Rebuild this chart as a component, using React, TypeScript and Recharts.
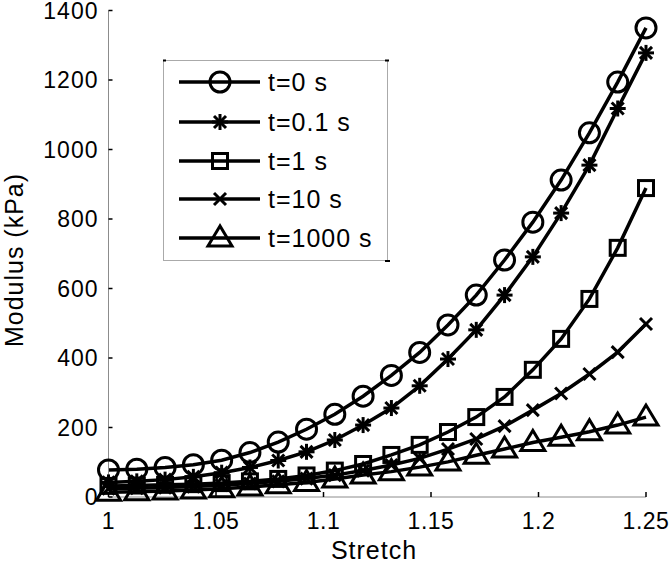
import { LineChart, Line, XAxis, YAxis } from 'recharts';

const stretch = [
  1, 1.013158, 1.026316, 1.039474, 1.052632, 1.065789, 1.078947, 1.092105, 1.105263, 1.118421,
  1.131579, 1.144737, 1.157895, 1.171053, 1.184211, 1.197368, 1.210526, 1.223684, 1.236842, 1.25,
];

const t0 = [78, 80, 85, 93, 106, 128, 158, 195, 238, 290, 350, 416, 495, 581, 682, 791, 912, 1048, 1194, 1350];
const t01 = [42, 45, 50, 58, 70, 85, 105, 130, 164, 207, 256, 320, 397, 481, 581, 691, 817, 955, 1118, 1278];
const t1 = [32, 33, 35, 37, 40, 45, 52, 62, 76, 95, 121, 150, 187, 230, 288, 366, 455, 570, 717, 889];
const t10 = [24, 25, 27, 30, 34, 39, 45, 53, 63, 76, 92, 111, 138, 167, 204, 250, 298, 354, 417, 498];
const t1000 = [14, 15, 17, 20, 24, 29, 35, 42, 52, 63, 73, 86, 101, 120, 138, 157, 172, 188, 207, 230];

const xTicks = [1, 1.05, 1.1, 1.15, 1.2, 1.25];
const yTicks = [0, 200, 400, 600, 800, 1000, 1200, 1400];

const series = [
  { key: 't0', name: 't=0 s', marker: 'circle' },
  { key: 't01', name: 't=0.1 s', marker: 'star' },
  { key: 't1', name: 't=1 s', marker: 'square' },
  { key: 't10', name: 't=10 s', marker: 'x' },
  { key: 't1000', name: 't=1000 s', marker: 'triangle' },
];

const data = stretch.map((x, i) => ({
  x,
  t0: t0[i],
  t01: t01[i],
  t1: t1[i],
  t10: t10[i],
  t1000: t1000[i],
}));

const FONT = 'Liberation Sans, Arial, sans-serif';

function marker(kind: string, cx: number, cy: number, key?: string) {
  const s = { stroke: '#000', strokeWidth: 3, fill: 'none' };
  switch (kind) {
    case 'circle':
      return <circle key={key} cx={cx} cy={cy} r={10} {...s} />;
    case 'square':
      return <rect key={key} x={cx - 7.5} y={cy - 7.5} width={15} height={15} {...s} />;
    case 'triangle':
      return (
        <polygon key={key} points={`${cx},${cy - 12} ${cx - 12},${cy + 8} ${cx + 12},${cy + 8}`} {...s} />
      );
    case 'x':
      return (
        <g key={key} {...s}>
          <line x1={cx - 6} y1={cy - 6} x2={cx + 6} y2={cy + 6} />
          <line x1={cx - 6} y1={cy + 6} x2={cx + 6} y2={cy - 6} />
        </g>
      );
    default:
      return (
        <g key={key} {...s}>
          <line x1={cx - 8} y1={cy} x2={cx + 8} y2={cy} />
          <line x1={cx} y1={cy - 8} x2={cx} y2={cy + 8} />
          <line x1={cx - 6} y1={cy - 6} x2={cx + 6} y2={cy + 6} />
          <line x1={cx - 6} y1={cy + 6} x2={cx + 6} y2={cy - 6} />
        </g>
      );
  }
}

const YTick = (props: any) => {
  const { x, y, payload } = props;
  return (
    <g>
      <line x1={x} y1={y} x2={x + 4} y2={y} stroke="#000" strokeWidth={1.5} />
      <text x={x - 10} y={y} dy="0.36em" textAnchor="end" fontSize={23} letterSpacing={1} fontFamily={FONT} fill="#000">
        {payload.value}
      </text>
    </g>
  );
};

const XTick = (props: any) => {
  const { x, y, payload } = props;
  return (
    <g>
      <line x1={x} y1={y} x2={x} y2={y - 5} stroke="#000" strokeWidth={1.5} />
      <text x={x} y={y + 32} textAnchor="middle" fontSize={23} letterSpacing={0.5} fontFamily={FONT} fill="#000">
        {payload.value}
      </text>
    </g>
  );
};

const legendRows = [82, 122, 161, 199, 238];

export default function App() {
  return (
    <div style={{ position: 'absolute', left: 0, top: 0, background: '#fff' }}>
      <LineChart width={670} height={564} data={data} margin={{ top: 10.5, right: 24, bottom: 0, left: 0 }}>
        <XAxis
          dataKey="x"
          type="number"
          domain={[1, 1.25]}
          ticks={xTicks}
          height={67}
          tickSize={0}
          tickMargin={0}
          tickLine={false}
          tick={XTick}
          axisLine={{ stroke: '#8c8c8c' }}
        />
        <YAxis
          type="number"
          domain={[0, 1400]}
          ticks={yTicks}
          width={108.5}
          tickSize={0}
          tickMargin={0}
          tickLine={false}
          tick={YTick}
          axisLine={{ stroke: '#8c8c8c' }}
        />
        {series.map((s) => (
          <Line
            key={s.key}
            dataKey={s.key}
            name={s.name}
            type="linear"
            stroke="#000"
            strokeWidth={3.5}
            isAnimationActive={false}
            dot={(p: any) => marker(s.marker, p.cx, p.cy, `${s.key}-${p.index}`)}
            activeDot={false}
          />
        ))}
        <text x={14} y={260} transform="rotate(-90 14 260)" textAnchor="middle" dy="0.36em" fontSize={25} letterSpacing={1} fontFamily={FONT} fill="#000">
          Modulus (kPa)
        </text>
        <text x={374} y={559} textAnchor="middle" fontSize={25} letterSpacing={1} fontFamily={FONT} fill="#000">
          Stretch
        </text>
        <g>
          <rect x={163.5} y={60.5} width={224} height={200} fill="#fff" stroke="#aaa" strokeWidth={1} />
          <line x1={163} y1={60.5} x2={166} y2={60.5} stroke="#000" strokeWidth={2} />
          <line x1={385} y1={60.5} x2={389} y2={60.5} stroke="#000" strokeWidth={2} />
          <line x1={385} y1={261} x2={390} y2={261} stroke="#000" strokeWidth={2} />
          {series.map((s, i) => (
            <g key={s.key}>
              <line x1={179} y1={legendRows[i]} x2={260} y2={legendRows[i]} stroke="#000" strokeWidth={3.5} />
              {marker(s.marker, 220, legendRows[i])}
              <text x={268} y={legendRows[i]} dy="0.36em" fontSize={25} letterSpacing={1} fontFamily={FONT} fill="#000">
                {s.name}
              </text>
            </g>
          ))}
        </g>
      </LineChart>
    </div>
  );
}
